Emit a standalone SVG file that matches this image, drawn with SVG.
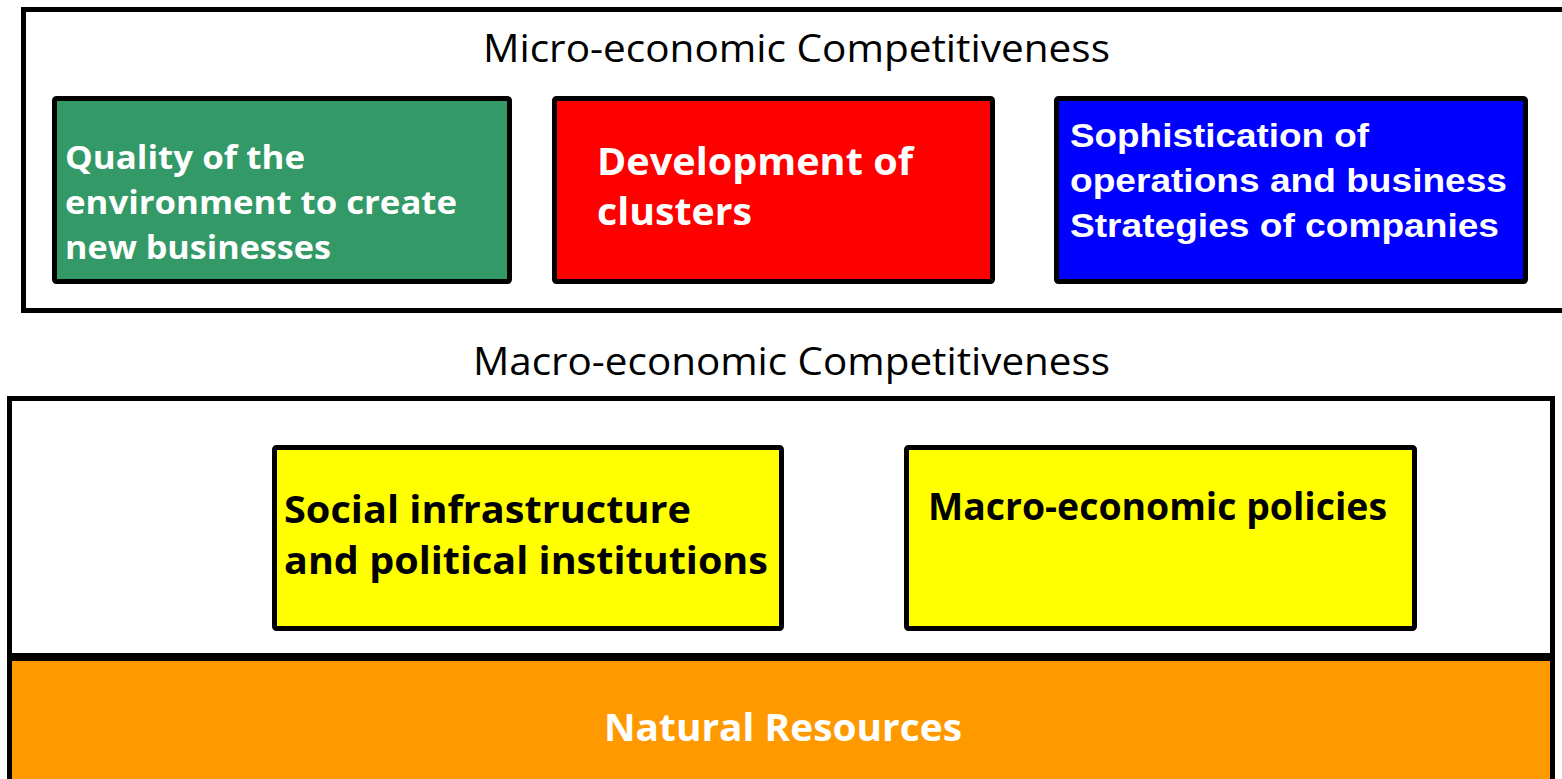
<svg xmlns="http://www.w3.org/2000/svg" width="1562" height="779" viewBox="0 0 1562 779">
<style>
.frame{fill:#fff;stroke:#000;stroke-width:5}
.box{stroke:#000;stroke-width:5}
.hdr{font-family:"Open Sans","DejaVu Sans",sans-serif;font-size:38px;fill:#000}
.lbl{font-family:"Open Sans","DejaVu Sans",sans-serif;font-weight:bold}
.arial{font-family:"Liberation Sans",Arial,sans-serif;font-weight:bold}
</style>
<g id="micro">
<rect class="frame" x="23.5" y="9.5" width="1560" height="301"/>
<text class="hdr" x="483" y="62" textLength="627" lengthAdjust="spacingAndGlyphs">Micro-economic Competitiveness</text>
</g>
<g id="quality">
<rect class="box" x="54.5" y="98.5" width="455" height="183" rx="2" fill="#339966"/>
<text class="lbl" font-size="32" fill="#fff"><tspan x="65" y="169" textLength="240" lengthAdjust="spacingAndGlyphs">Quality of the</tspan><tspan x="65" y="214" textLength="392" lengthAdjust="spacingAndGlyphs">environment to create</tspan><tspan x="65" y="259" textLength="266" lengthAdjust="spacingAndGlyphs">new businesses</tspan></text>
</g>
<g id="clusters">
<rect class="box" x="554.5" y="98.5" width="438" height="183" rx="2" fill="#ff0000"/>
<text class="lbl" font-size="38" fill="#fff"><tspan x="597" y="175" textLength="316" lengthAdjust="spacingAndGlyphs">Development of</tspan><tspan x="597" y="225" textLength="155" lengthAdjust="spacingAndGlyphs">clusters</tspan></text>
</g>
<g id="sophistication">
<rect class="box" x="1056.5" y="98.5" width="469" height="183" rx="2" fill="#0000ff"/>
<text class="arial" font-size="34" fill="#fff"><tspan x="1070" y="147" textLength="299" lengthAdjust="spacingAndGlyphs">Sophistication of</tspan><tspan x="1070" y="192" textLength="437" lengthAdjust="spacingAndGlyphs">operations and business</tspan><tspan x="1070" y="237" textLength="429" lengthAdjust="spacingAndGlyphs">Strategies of companies</tspan></text>
</g>
<g id="macro">
<text class="hdr" x="473" y="375" textLength="637" lengthAdjust="spacingAndGlyphs">Macro-economic Competitiveness</text>
<rect class="frame" x="9.5" y="398.5" width="1543" height="258"/>
</g>
<g id="social">
<rect class="box" x="274.5" y="447.5" width="507" height="181" rx="2" fill="#ffff00"/>
<text class="lbl" font-size="38" fill="#000"><tspan x="284" y="523" textLength="407" lengthAdjust="spacingAndGlyphs">Social infrastructure</tspan><tspan x="284" y="574" textLength="484" lengthAdjust="spacingAndGlyphs">and political institutions</tspan></text>
</g>
<g id="policies">
<rect class="box" x="906.5" y="447.5" width="508" height="181" rx="2" fill="#ffff00"/>
<text class="lbl" font-size="38" fill="#000" x="928" y="520" textLength="459" lengthAdjust="spacingAndGlyphs">Macro-economic policies</text>
</g>
<g id="natural">
<rect x="9.5" y="657.5" width="1543" height="125" fill="#ff9900" stroke="#000" stroke-width="5"/>
<line x1="7" y1="657" x2="1555" y2="657" stroke="#000" stroke-width="8"/>
<text class="lbl" font-size="38" fill="#fff" x="604" y="741" textLength="358" lengthAdjust="spacingAndGlyphs">Natural Resources</text>
</g>
<g id="connectors"/>
</svg>
